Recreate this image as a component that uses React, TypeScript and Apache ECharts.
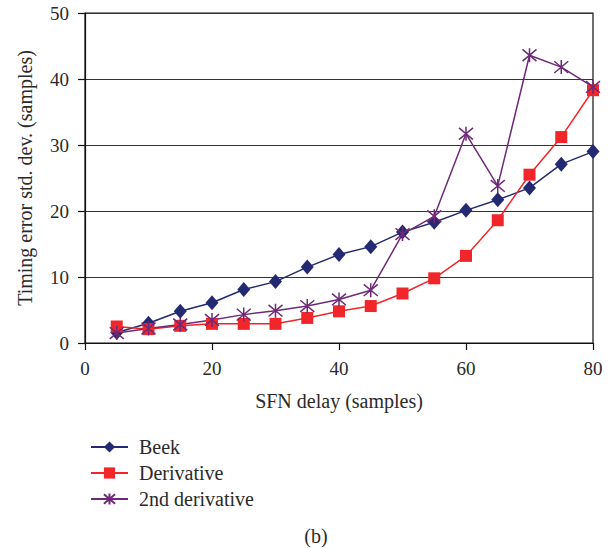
import React, { useEffect, useRef } from "react";
import * as echarts from "echarts";

const xValues = [5, 10, 15, 20, 25, 30, 35, 40, 45, 50, 55, 60, 65, 70, 75, 80];
const beek = [1.6, 3.0, 4.8, 6.1, 8.1, 9.3, 11.5, 13.4, 14.6, 16.8, 18.3, 20.1, 21.7, 23.5, 27.1, 29.0];
const derivative = [2.5, 2.1, 2.6, 2.9, 2.9, 2.9, 3.8, 4.8, 5.6, 7.5, 9.8, 13.2, 18.6, 25.5, 31.2, 38.3];
const second = [1.5, 2.2, 2.8, 3.5, 4.3, 4.9, 5.6, 6.6, 8.0, 16.5, 19.2, 31.7, 23.8, 43.6, 41.8, 38.8];
const seriesNames = ["Beek", "Derivative", "2nd derivative"];

const FONT = "Liberation Serif";
const TEXT = "#2a2a2a";
const STAR = "path://M0,0L10,10M10,0L0,10M5,-1L5,11";

export default function App() {
  const ref = useRef<HTMLDivElement>(null);
  useEffect(() => {
    document.body.style.margin = "0";
    const chart = echarts.init(ref.current!, null, { renderer: "svg" });
    const pair = (ys: number[]) => xValues.map((x, i) => [x, ys[i]]);
    chart.setOption({
      animation: false,
      backgroundColor: "#fff",
      textStyle: { fontFamily: FONT, color: TEXT },
      grid: {
        left: 85,
        right: 22,
        top: 13,
        bottom: 205,
        show: true,
        borderColor: "#111",
        borderWidth: 1.2,
      },
      xAxis: {
        type: "value",
        min: 0,
        max: 80,
        interval: 20,
        name: "SFN delay (samples)",
        nameLocation: "middle",
        nameGap: 48,
        nameTextStyle: { fontFamily: FONT, fontSize: 20, color: TEXT },
        axisLine: { lineStyle: { color: "#111", width: 1.2 } },
        axisTick: { length: 7, lineStyle: { color: "#111", width: 1.2 } },
        axisLabel: { fontFamily: FONT, fontSize: 19, color: TEXT, margin: 16 },
        splitLine: { show: false },
      },
      yAxis: {
        type: "value",
        min: 0,
        max: 50,
        interval: 10,
        name: "Timing error std. dev. (samples)",
        nameLocation: "middle",
        nameGap: 50,
        nameTextStyle: { fontFamily: FONT, fontSize: 20, color: TEXT },
        axisLine: { show: true, lineStyle: { color: "#111", width: 1.2 } },
        axisTick: { show: true, length: 7, lineStyle: { color: "#111", width: 1.2 } },
        axisLabel: { fontFamily: FONT, fontSize: 19, color: TEXT, margin: 16 },
        splitLine: { show: true, lineStyle: { color: "#333", width: 1.2 } },
      },
      legend: {
        orient: "vertical",
        left: 85,
        top: 432,
        itemWidth: 37,
        itemHeight: 14,
        itemGap: 6,
        textStyle: { fontFamily: FONT, fontSize: 20, color: TEXT, padding: [0, 0, 0, 6] },
        data: seriesNames,
      },
      title: {
        text: "(b)",
        left: 316,
        top: 526,
        padding: 0,
        textAlign: "center",
        textStyle: { fontFamily: FONT, fontSize: 20, fontWeight: "normal", color: TEXT },
      },
      series: [
        {
          name: seriesNames[0],
          type: "line",
          data: pair(beek),
          symbol: "diamond",
          symbolSize: [13, 15],
          itemStyle: { color: "#232a72" },
          lineStyle: { color: "#232a72", width: 1.5 },
        },
        {
          name: seriesNames[1],
          type: "line",
          data: pair(derivative),
          symbol: "rect",
          symbolSize: 12,
          itemStyle: { color: "#f0262b" },
          lineStyle: { color: "#f0262b", width: 1.5 },
        },
        {
          name: seriesNames[2],
          type: "line",
          data: pair(second),
          symbol: STAR,
          symbolSize: 14,
          itemStyle: { color: "#6e2a78", borderColor: "#6e2a78", borderWidth: 1.5 },
          lineStyle: { color: "#6e2a78", width: 1.5 },
        },
      ],
    });
    return () => chart.dispose();
  }, []);
  return <div ref={ref} style={{ width: 615, height: 548 }} />;
}
